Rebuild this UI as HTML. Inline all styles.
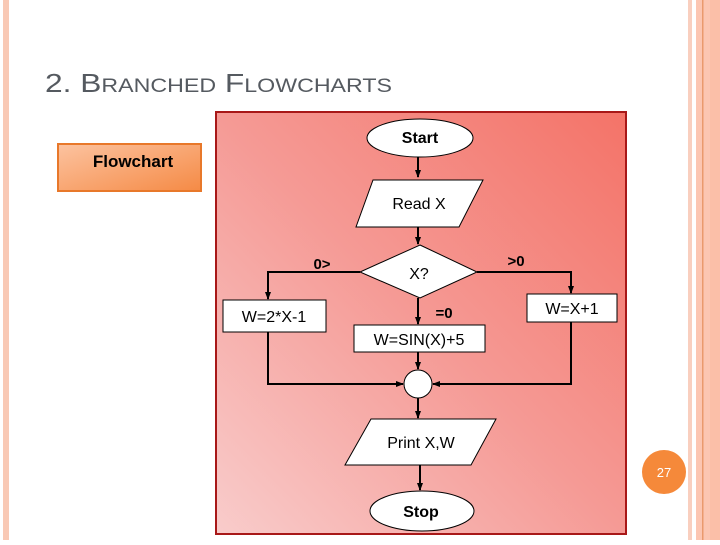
<!DOCTYPE html>
<html><head><meta charset="utf-8"><style>
body{margin:0;width:720px;height:540px;overflow:hidden;background:#fff;font-family:"Liberation Sans",sans-serif}
</style></head><body>
<svg width="720" height="540" viewBox="0 0 720 540" xmlns="http://www.w3.org/2000/svg" font-family="Liberation Sans, sans-serif">
<defs>
<linearGradient id="pg" x1="0" y1="1" x2="1" y2="0">
<stop offset="0" stop-color="#f9cccb"/><stop offset="0.5" stop-color="#f59a95"/><stop offset="1" stop-color="#f47368"/>
</linearGradient>
<linearGradient id="og" x1="0" y1="0" x2="1" y2="1">
<stop offset="0" stop-color="#fcc3a0"/><stop offset="1" stop-color="#f58a45"/>
</linearGradient>
<marker id="a" markerWidth="8" markerHeight="8" refX="7" refY="4" orient="auto" markerUnits="userSpaceOnUse">
<path d="M0,1 L8,4 L0,7 Z" fill="#000"/></marker>
</defs>
<rect x="3" y="0" width="6" height="540" fill="#f9c9b5"/>
<rect x="688" y="0" width="4" height="540" fill="#f9cfbf"/>
<rect x="696" y="0" width="24" height="540" fill="#fcc6b2"/>
<rect x="702" y="0" width="1.5" height="540" fill="#ea9a6e"/>
<rect x="710" y="0" width="10" height="540" fill="#fbbfa8"/>
<text x="45" y="92" fill="#555a60" font-size="26" textLength="347" lengthAdjust="spacingAndGlyphs">2. B<tspan font-size="19">RANCHED</tspan> F<tspan font-size="19">LOWCHARTS</tspan></text>
<rect x="216" y="112" width="410" height="422" fill="url(#pg)" stroke="#a81818" stroke-width="2"/>
<rect x="58" y="144" width="143" height="47" fill="url(#og)" stroke="#e8782a" stroke-width="2"/>
<text x="133" y="167" font-size="17" font-weight="bold" text-anchor="middle">Flowchart</text>
<g stroke="#000" stroke-width="1" fill="#fff">
<ellipse cx="420" cy="138" rx="53" ry="19"/>
<polygon points="373,180 483,180 459,227 356,227"/>
<polygon points="420,245 477,272 420,298 360,272"/>
<rect x="223" y="300" width="103" height="32"/>
<rect x="527" y="294" width="90" height="28"/>
<rect x="354" y="325" width="131" height="27"/>
<circle cx="418" cy="384" r="14"/>
<polygon points="371,419 496,419 471,465 345,465"/>
<ellipse cx="422" cy="511" rx="52" ry="20"/>
</g>
<g stroke="#000" stroke-width="2" fill="none" marker-end="url(#a)">
<line x1="418" y1="157" x2="418" y2="177"/>
<line x1="418" y1="227" x2="418" y2="244"/>
<polyline points="360,272 268,272 268,299"/>
<polyline points="477,272 571,272 571,293"/>
<line x1="418" y1="298" x2="418" y2="324"/>
<polyline points="268,332 268,384 403,384"/>
<polyline points="571,322 571,384 433,384"/>
<line x1="418" y1="352" x2="418" y2="369"/>
<line x1="418" y1="398" x2="418" y2="418"/>
<line x1="420" y1="465" x2="420" y2="490"/>
</g>
<g font-size="16" text-anchor="middle">
<text x="420" y="143" font-weight="bold">Start</text>
<text x="419" y="209">Read X</text>
<text x="419" y="279">X?</text>
<text x="274" y="322">W=2*X-1</text>
<text x="572" y="314">W=X+1</text>
<text x="419" y="345">W=SIN(X)+5</text>
<text x="421" y="448">Print X,W</text>
<text x="421" y="517" font-weight="bold">Stop</text>
<text x="322" y="269" font-weight="bold" font-size="15">0&gt;</text>
<text x="516" y="266" font-weight="bold" font-size="15">&gt;0</text>
<text x="444" y="318" font-weight="bold" font-size="15">=0</text>
</g>
<circle cx="664" cy="472" r="22" fill="#f5893a"/>
<text x="664" y="477" font-size="13" fill="#fff" text-anchor="middle">27</text>
</svg>
</body></html>
